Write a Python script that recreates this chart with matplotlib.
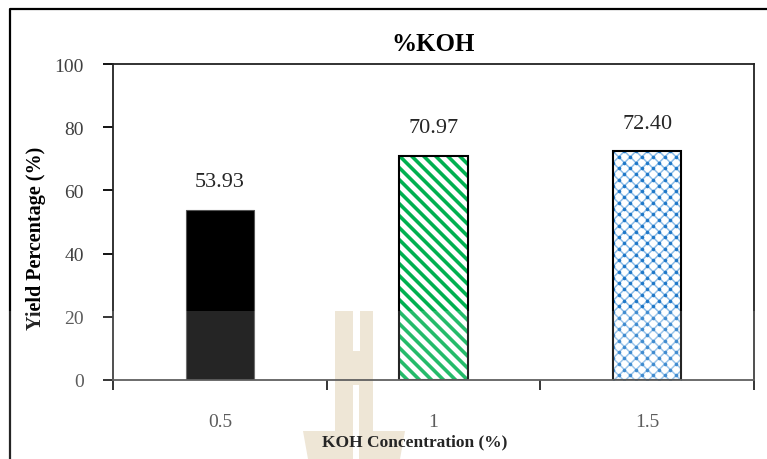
import numpy as np
import matplotlib.pyplot as plt
from matplotlib.patches import Polygon, Rectangle
from matplotlib.lines import Line2D
from matplotlib.transforms import Affine2D

plt.rcParams['font.family'] = ['Liberation Serif', 'DejaVu Serif']

# data
concentrations = ['0.5', '1', '1.5']
yields = [53.93, 70.97, 72.40]
bar_colors = ['black', 'none', 'none']
hatch_styles = [None, 'stripe', 'lattice']

W, H = 767, 460
fig = plt.figure(figsize=(W / 100, H / 100), dpi=100)
fig.patch.set_facecolor('white')

# pixel coordinates on the figure (origin top-left)
px = Affine2D().scale(1 / W, -1 / H).translate(0, 1) + fig.transFigure

ax = fig.add_axes([113 / W, 1 - 381 / H, (754 - 113) / W, (381 - 65) / H])
ax.set_facecolor('none')

x = np.arange(len(concentrations))
bars = ax.bar(x, yields, width=0.32, color=bar_colors, edgecolor='black',
              linewidth=1.5, zorder=2)
bars[0].set_edgecolor('#555555')
bars[0].set_linewidth(0.8)

ax.set_xlim(-0.5, len(concentrations) - 0.5)
ax.set_ylim(0, 100)
ax.set_yticks(range(0, 101, 20))

# category boundaries get the tick marks, labels sit at the centres
ax.set_xticks(np.arange(-0.5, len(concentrations), 1.0))
ax.set_xticklabels([])
ax.set_xticks(x, minor=True)
ax.set_xticklabels(concentrations, minor=True)
ax.tick_params(axis='x', which='minor', length=0, pad=24, labelsize=14,
               labelcolor='#404040')
ax.tick_params(axis='x', which='major', length=7, width=1.3, direction='out')
ax.tick_params(axis='y', length=7, width=1.3, direction='out', pad=14,
               labelsize=14, labelcolor='#404040')

for s in ax.spines.values():
    s.set_linewidth(1.3)
    s.set_color('#222222')
ax.spines['bottom'].set_color('#444444')


def to_px(xd, yd):
    return ax.transData.transform(np.column_stack([xd, yd]))


def px_to_data(pts):
    return ax.transData.inverted().transform(pts)


def clipped_line(bar, pts, **kw):
    ln = Line2D(*px_to_data(pts).T, **kw)
    ax.add_line(ln)
    ln.set_clip_path(bar)


def fill_pattern(bar, kind):
    x0, y0 = bar.get_x(), 0
    x1, y1 = x0 + bar.get_width(), bar.get_height()
    (l, b), (r, t) = to_px([x0, x1], [y0, y1])
    span = (r - l) + (t - b)
    if kind == 'stripe':
        step = 12.0
        n = int(span / step) + 2
        for k in range(-n, n):
            o = k * step
            pts = np.array([[l + o, t], [l + o + span, t - span]])
            clipped_line(bar, pts, color='#00B050', lw=2.6, zorder=1.5)
    elif kind == 'lattice':
        step = 11.5
        n = int(span / step) + 2
        for k in range(-n, n):
            o = k * step
            for sgn in (1, -1):
                pts = np.array([[l + o, t], [l + o + sgn * span, t - span]])
                clipped_line(bar, pts, color='#8DBDE8', lw=1.1, zorder=1.5)
        # darker knots where the diagonals cross
        rows = int((t - b) / (step / 2)) + 2
        for j in range(rows):
            yy = t - j * step / 2
            start = l if j % 2 == 0 else l + step / 2
            xs = np.arange(start, r + step, step)
            pts = np.column_stack([xs, np.full_like(xs, yy)])
            clipped_line(bar, pts, ls='none', marker='o', ms=2.6,
                         mfc='#1F78C8', mec='none', zorder=1.6)


for bar, kind in zip(bars, hatch_styles):
    if kind:
        fill_pattern(bar, kind)

# value labels
for xi, v in zip(x, yields):
    ax.annotate(f'{v:.2f}', (xi, v), xytext=(0, 20), textcoords='offset points',
                ha='center', va='center', fontsize=16, color='#262626')

ax.set_title('%KOH', fontsize=18, fontweight='bold', pad=10)
ax.set_ylabel('Yield Percentage (%)', fontsize=14.5, fontweight='bold')
ax.set_xlabel('KOH Concentration (%)', fontsize=12.5, fontweight='bold')
ax.yaxis.set_label_coords(-0.104, 0.45)
ax.xaxis.set_label_coords(0.47, -0.17)

# outer frame (left and top edges only)
fig.add_artist(Line2D([10, 10, W], [H, 10, 10], color='black', lw=1.6,
                      transform=px))

# faint logo mark behind the plot
wm = '#ECE2CF'
logo = [
    [(335, 312), (353, 312), (353, 352), (360, 352), (360, 312), (373, 312),
     (373, 432), (405, 432), (400, 460), (359, 460), (359, 386), (353, 386),
     (353, 460), (308, 460), (303, 432), (335, 432)],
]
for pts in logo:
    fig.add_artist(Polygon(pts, closed=True, facecolor=wm, edgecolor='none',
                           transform=px, zorder=-1))

# lighter band over the lower part of the figure
fig.add_artist(Rectangle((0, 312), W, H - 312, facecolor='white', alpha=0.15,
                         edgecolor='none', transform=px, zorder=10))

fig.savefig('out.png', dpi=100)
